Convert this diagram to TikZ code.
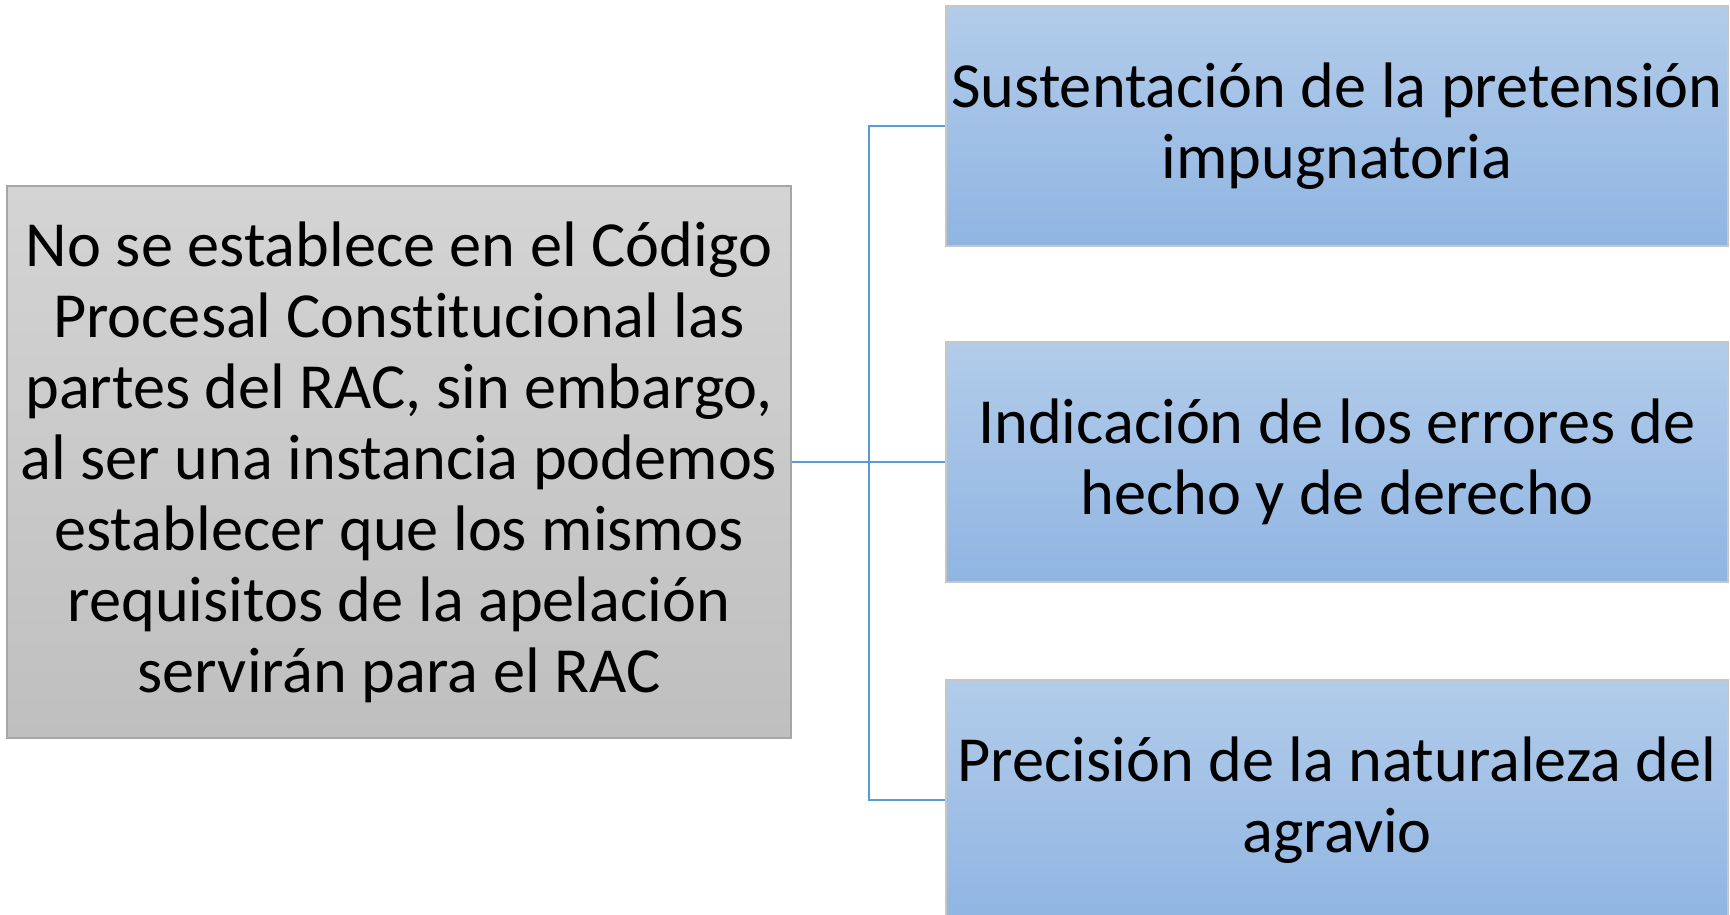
\documentclass[tikz,border=0pt]{standalone}
\usepackage{fontspec}
\setmainfont{Carlito}[Ligatures={NoCommon}]
\definecolor{linkblue}{HTML}{5B9BD5}
\definecolor{grayTop}{HTML}{D4D4D4}
\definecolor{grayBot}{HTML}{BFBFBF}
\definecolor{blueTop}{HTML}{B2CCEA}
\definecolor{blueBot}{HTML}{90B5E2}
\tikzset{
    mainbox/.style={draw=gray!70, line width=0.7pt, top color=grayTop, bottom color=grayBot, minimum width=7.84cm, minimum height=5.52cm, align=center, inner sep=0pt, font=\fontsize{18.3}{20.2}\selectfont},
    reqbox/.style={draw=gray!45, line width=0.7pt, top color=blueTop, bottom color=blueBot, minimum width=7.82cm, minimum height=2.40cm, align=center, inner sep=0pt, font=\fontsize{18.3}{20.2}\selectfont},
    link/.style={draw=linkblue, line width=0.6pt}
}
\begin{document}
\begin{tikzpicture}

    \useasboundingbox (0,0) rectangle (17.3,9.14);

    \node[mainbox] (rac) at (3.99,4.52) {No se establece en el Código\\Procesal Constitucional las\\partes del RAC, sin embargo,\\al ser una instancia podemos\\establecer que los mismos\\requisitos de la apelación\\servirán para el RAC};

    \node[reqbox] (sust) at (13.37,7.88) {Sustentación de la pretensión\\impugnatoria};
    \node[reqbox] (indic) at (13.37,4.52) {Indicación de los errores de\\hecho y de derecho};
    \node[reqbox] (prec) at (13.37,1.14) {Precisión de la naturaleza del\\agravio};

    \coordinate (split) at (8.69,4.52);

    \draw[link] (rac.east) -- (split) |- (sust.west);
    \draw[link] (split) -- (indic.west);
    \draw[link] (split) |- (prec.west);

\end{tikzpicture}
\end{document}
